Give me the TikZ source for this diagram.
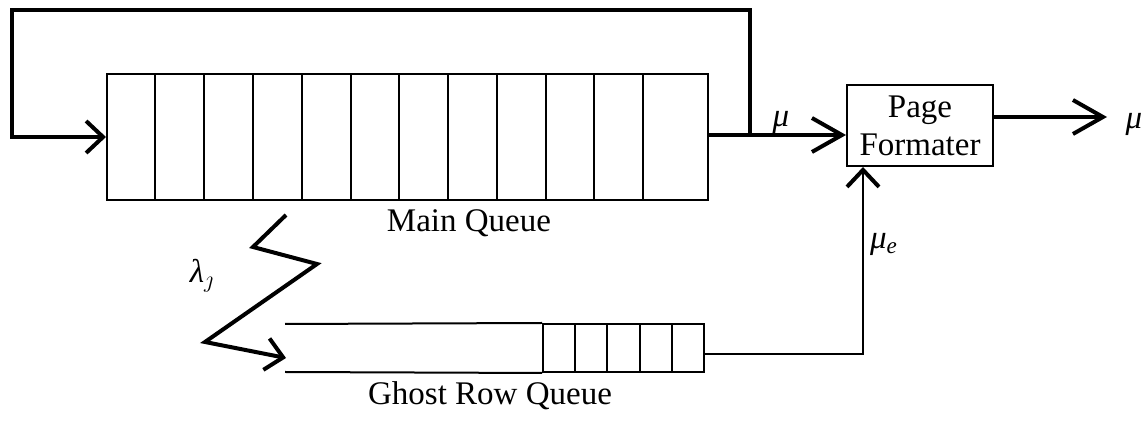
\documentclass[tikz,border=0pt]{standalone}
\usepackage{fontspec}
\setmainfont{Liberation Serif}
\usetikzlibrary{arrows.meta}

\begin{document}
\begin{tikzpicture}[x=0.5pt, y=-0.5pt,
    every node/.style={font=\fontsize{16.5}{19}\selectfont},
    queue/.style={draw, line width=1pt, inner sep=0pt},
    cell/.style={line width=1pt},
    flow/.style={line width=2pt},
    feed/.style={line width=0.8pt},
    barb/.style={-{Straight Barb[length=8.5pt, width=16pt, line width=2pt]}},
    longbarb/.style={-{Straight Barb[length=15pt, width=17pt, line width=2pt]}}]

    \useasboundingbox (0,0) rectangle (1146,421);

    % Queues
    \node[queue, minimum width=300.5pt, minimum height=63pt] (mainq) at (407.5,137) {};
    \foreach \x in {155,204,253,302,351,399,448,497,546,594,643}
        \draw[cell] (\x,74) -- (\x,200);
    \node[anchor=base] (mainlab) at (469,232) {Main Queue};

    \node[queue, minimum width=80.5pt, minimum height=24pt] (ghostq) at (623.5,348) {};
    \foreach \x in {575,607,640,672}
        \draw[cell] (\x,324) -- (\x,372);
    \coordinate (gtop) at (285,324);
    \coordinate (gbot) at (285,372);
    \draw[cell] (gtop) -- (ghostq.north west);
    \draw[cell] (gbot) -- (ghostq.south west);
    \node[anchor=base] (ghostlab) at (490,405) {Ghost Row Queue};

    % Formatter
    \node[queue, minimum width=73pt, minimum height=40.5pt, align=center] (fmt) at (920,125.5) {Page\\Formater};

    % Lines
    \coordinate (split) at (750,135);
    \draw[flow, longbarb] (mainq.east |- split) -- (fmt.west |- split);

    \coordinate (looptr) at (750,10);
    \coordinate (looptl) at (12,10);
    \coordinate (loopbl) at (12,137);
    \draw[flow, barb] (split) -- (looptr) -- (looptl) -- (loopbl) -- (mainq.west);

    \coordinate (fout) at (1107,117);
    \draw[flow, longbarb] (fmt.east |- fout) -- (fout);

    \coordinate (gturn) at (863,354);
    \draw[feed, barb] (ghostq.east |- gturn) -- (gturn) -- (fmt.south -| gturn);

    \coordinate (z0) at (286,215);
    \coordinate (z1) at (253,247);
    \coordinate (z2) at (317,264);
    \coordinate (z3) at (205,342);
    \coordinate (gin) at (286,358);
    \draw[flow, barb] (z0) -- (z1) -- (z2) -- (z3) -- (gin);

    % Labels
    \node (mu1) at (781,122) {\itshape μ};
    \node (mu2) at (1134,124) {\itshape μ};
    \node (mue) at (884,244) {\itshape μ\textsubscript{e}};
    \node (lam) at (202,276) {\itshape λ$_\jmath$};

\end{tikzpicture}
\end{document}
